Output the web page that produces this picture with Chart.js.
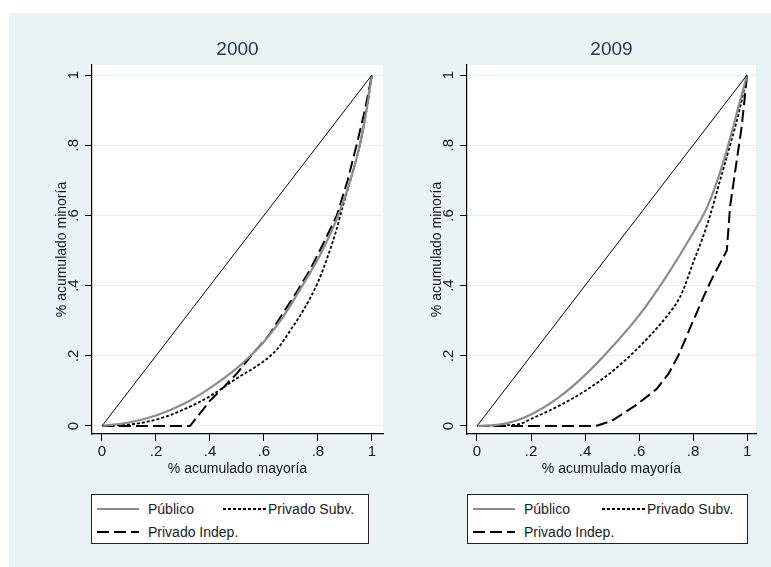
<!DOCTYPE html>
<html>
<head>
<meta charset="utf-8">
<script src="https://cdn.jsdelivr.net/npm/chart.js@4.4.1/dist/chart.umd.min.js"></script>
<style>
  body { margin: 0; background: #fff; }
  #page { position: relative; width: 771px; height: 567px; overflow: hidden; font-family: 'Liberation Sans', Arial, sans-serif; }
  #bg { position: absolute; left: 9px; top: 13px; right: 0; bottom: 0; background: #eaf2f3; }
  .panel { position: absolute; top: 0; height: 490px; }
  .legend { position: absolute; top: 494px; height: 48px; background: #fff; border: 1px solid #222; }
  .sample { position: absolute; }
  .label { position: absolute; font-size: 14px; line-height: 16px; color: #1a1a26; white-space: nowrap; }
</style>
</head>
<body>
<div id="page">
  <div id="bg"></div>
  <div class="panel" style="left:0;width:390px"><canvas id="chart2000"></canvas></div>
  <div class="panel" style="left:390px;width:381px"><canvas id="chart2009"></canvas></div>
  <div class="legend" id="legend2000" style="left:91px;width:276px"></div>
  <div class="legend" id="legend2009" style="left:467px;width:279px"></div>
</div>
<script>
const years = ['2000', '2009']
const seriesNames = ['Público', 'Privado Subv.', 'Privado Indep.']
const tickValues = [0, 0.2, 0.4, 0.6, 0.8, 1]
const tickLabels = ['0', '.2', '.4', '.6', '.8', '1']
const xTitle = '% acumulado mayoría'
const yTitle = '% acumulado minoría'

// línea de igualdad
const equality = [[0, 0], [1, 1]]

// curvas 2000 (x = % acumulado mayoría, y = % acumulado minoría)
const publico2000 = [[0, 0], [0.1, 0.01], [0.2, 0.03], [0.3, 0.062], [0.4, 0.108], [0.5, 0.165], [0.55, 0.2],
  [0.6, 0.24], [0.67, 0.31], [0.75, 0.41], [0.81, 0.49], [0.875, 0.6], [0.92, 0.7], [0.955, 0.8], [0.98, 0.9], [1, 1]]
const subv2000 = [[0, 0], [0.1, 0.004], [0.2, 0.018], [0.3, 0.046], [0.4, 0.085], [0.5, 0.136], [0.6, 0.185],
  [0.65, 0.22], [0.7, 0.275], [0.75, 0.335], [0.8, 0.41], [0.835, 0.48], [0.865, 0.55], [0.89, 0.62],
  [0.92, 0.7], [0.955, 0.8], [0.98, 0.9], [1, 1]]
const indep2000 = [[0, 0], [0.326, 0], [0.4, 0.072], [0.45, 0.11], [0.5, 0.15], [0.56, 0.207], [0.62, 0.26],
  [0.671, 0.322], [0.72, 0.38], [0.77, 0.444], [0.82, 0.52], [0.87, 0.6], [0.91, 0.7], [0.943, 0.8], [0.974, 0.9], [1, 1]]

// curvas 2009
const publico2009 = [[0, 0], [0.1, 0.006], [0.2, 0.033], [0.3, 0.08], [0.4, 0.145], [0.5, 0.225], [0.6, 0.315],
  [0.7, 0.425], [0.8, 0.55], [0.85, 0.62], [0.89, 0.7], [0.93, 0.8], [0.965, 0.9], [1, 1]]
const subv2009 = [[0, 0], [0.1, 0.002], [0.16, 0.006], [0.2, 0.02], [0.3, 0.056], [0.4, 0.1], [0.5, 0.155],
  [0.6, 0.225], [0.7, 0.31], [0.75, 0.365], [0.77, 0.4], [0.8, 0.465], [0.835, 0.535], [0.865, 0.605],
  [0.9, 0.7], [0.937, 0.8], [0.972, 0.9], [1, 1]]
const indep2009 = [[0, 0], [0.44, 0], [0.5, 0.015], [0.59, 0.06], [0.665, 0.105], [0.71, 0.15], [0.745, 0.2],
  [0.795, 0.29], [0.84, 0.37], [0.87, 0.42], [0.925, 0.5], [0.937, 0.625], [0.962, 0.758], [0.98, 0.853],
  [0.993, 0.948], [1, 1]]

const fontFamily = "'Liberation Sans', Arial, sans-serif"
const textColor = '#14141f'
const lineStyles = [
  { color: '#8c8c8c', width: 2.2, dash: [] },
  { color: '#000', width: 1.8, dash: [3, 2] },
  { color: '#000', width: 2, dash: [12, 5] },
]

Chart.defaults.font.family = fontFamily
Chart.defaults.animation = false

const toPoints = (pairs) => pairs.map(([x, y]) => ({ x, y }))
const labelFor = (v) => {
  const i = tickValues.findIndex((t) => Math.abs(t - v) < 1e-9)
  return i < 0 ? '' : tickLabels[i]
}

const plotBackground = {
  id: 'plotBackground',
  beforeDraw(chart) {
    const { ctx, chartArea: a } = chart
    ctx.save()
    ctx.fillStyle = '#fff'
    ctx.fillRect(a.left, a.top, a.right - a.left, a.bottom - a.top)
    ctx.restore()
  },
}

function buildChart(canvasId, year, curves, box) {
  const ctx = document.getElementById(canvasId).getContext('2d')
  const datasets = [
    { label: 'igualdad', data: toPoints(equality), borderColor: '#000', borderWidth: 1 },
  ]
  curves.forEach((curve, i) => {
    datasets.push({
      label: seriesNames[i],
      data: toPoints(curve),
      borderColor: lineStyles[i].color,
      borderWidth: lineStyles[i].width,
      borderDash: lineStyles[i].dash,
      cubicInterpolationMode: i < 2 ? 'monotone' : 'default',
      tension: 0,
    })
  })

  return new Chart(ctx, {
    type: 'line',
    data: { datasets },
    options: {
      responsive: true,
      maintainAspectRatio: false,
      layout: { padding: { left: 0, right: box.rightPad, top: 0, bottom: 0 } },
      elements: { point: { radius: 0 } },
      plugins: {
        legend: { display: false },
        tooltip: { enabled: false },
        title: {
          display: true,
          text: year,
          fullSize: false,
          color: '#26374d',
          font: { size: 19, weight: 'normal' },
          padding: { top: 38.5, bottom: 3.7 },
        },
      },
      scales: {
        x: {
          type: 'linear',
          min: -0.037,
          max: box.xMax,
          afterBuildTicks: (s) => { s.ticks = tickValues.map((v) => ({ value: v })) },
          afterFit: (s) => { s.height = 56 },
          ticks: { callback: labelFor, color: textColor, font: { size: 15 }, padding: 2, maxRotation: 0, autoSkip: false },
          grid: { drawOnChartArea: false, tickLength: 7, tickColor: '#000', tickWidth: 1 },
          border: { color: '#000', width: 1.2 },
          title: { display: true, text: xTitle, color: textColor, font: { size: 14 }, padding: { top: 0, bottom: 12 } },
        },
        y: {
          min: -0.0228,
          max: 1.0285,
          afterBuildTicks: (s) => { s.ticks = tickValues.map((v) => ({ value: v })) },
          afterFit: (s) => { s.width = box.yWidth },
          ticks: { callback: labelFor, color: textColor, font: { size: 15 }, padding: 5, minRotation: 90, maxRotation: 90, crossAlign: 'center', autoSkip: false },
          grid: { color: '#e4edf0', lineWidth: 1, tickLength: 7, tickColor: '#000', tickWidth: 1 },
          border: { color: '#000', width: 1.2 },
          title: { display: true, text: yTitle, color: textColor, font: { size: 14 }, padding: { top: box.yWidth - 38, bottom: 0 } },
        },
      },
    },
    plugins: [plotBackground],
  })
}

buildChart('chart2000', years[0], [publico2000, subv2000, indep2000], { xMax: 1.041, rightPad: 7, yWidth: 92 })
buildChart('chart2009', years[1], [publico2009, subv2009, indep2009], { xMax: 1.033, rightPad: 15, yWidth: 77 })

// leyenda en recuadro, dos columnas como en el original
function buildLegend(id, col2Offset) {
  const el = document.getElementById(id)
  const slots = [{ left: 5, top: 14 }, { left: col2Offset, top: 14 }, { left: 5, top: 37 }]
  seriesNames.forEach((name, i) => {
    const st = lineStyles[i]
    const sampleWidth = i === 1 ? 45 : 42
    const svg = document.createElementNS('http://www.w3.org/2000/svg', 'svg')
    svg.setAttribute('class', 'sample')
    svg.setAttribute('width', sampleWidth)
    svg.setAttribute('height', 6)
    svg.style.left = slots[i].left + 'px'
    svg.style.top = (slots[i].top - 3) + 'px'
    const line = document.createElementNS('http://www.w3.org/2000/svg', 'line')
    line.setAttribute('x1', 0)
    line.setAttribute('x2', sampleWidth)
    line.setAttribute('y1', 3)
    line.setAttribute('y2', 3)
    line.setAttribute('stroke', st.color)
    line.setAttribute('stroke-width', st.width)
    if (st.dash.length) line.setAttribute('stroke-dasharray', st.dash.join(' '))
    svg.appendChild(line)
    el.appendChild(svg)

    const span = document.createElement('span')
    span.className = 'label'
    span.textContent = name
    span.style.left = (slots[i].left + sampleWidth + (i === 1 ? 0 : 9)) + 'px'
    span.style.top = (slots[i].top - 8) + 'px'
    el.appendChild(span)
  })
}

buildLegend('legend2000', 131)
buildLegend('legend2009', 134)
</script>
</body>
</html>
